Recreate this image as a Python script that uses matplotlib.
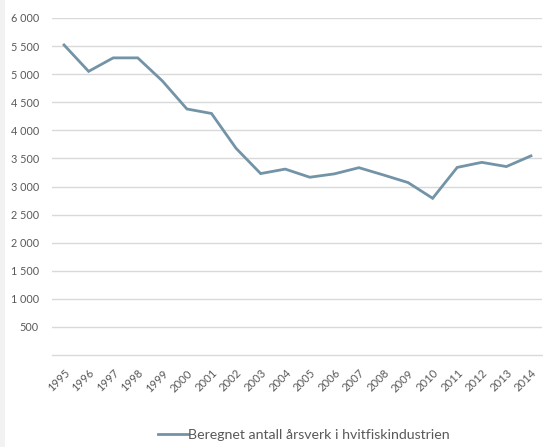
import matplotlib
matplotlib.use("Agg")
import matplotlib.pyplot as plt
from matplotlib.patches import Rectangle
from matplotlib.lines import Line2D

years = ["1995", "1996", "1997", "1998", "1999", "2000", "2001", "2002", "2003", "2004",
         "2005", "2006", "2007", "2008", "2009", "2010", "2011", "2012", "2013", "2014"]
values = [5520, 5050, 5290, 5290, 4880, 4380, 4300, 3680, 3230, 3310,
          3165, 3225, 3335, 3205, 3070, 2790, 3340, 3430, 3355, 3545]
yticks = [500, 1000, 1500, 2000, 2500, 3000, 3500, 4000, 4500, 5000, 5500, 6000]
ytick_labels = ["500", "1 000", "1 500", "2 000", "2 500", "3 000", "3 500",
                "4 000", "4 500", "5 000", "5 500", "6 000"]
series_name = "Beregnet antall årsverk i hvitfiskindustrien"

plt.rcParams['font.family'] = ['Lato', 'DejaVu Sans']

W, H = 543, 447
fig = plt.figure(figsize=(W / 100, H / 100), dpi=100)
fig.patch.set_facecolor("white")

# faint frame strip on the left
fig.patches.append(Rectangle((0, 0), 5 / W, 1, transform=fig.transFigure,
                             facecolor="#f2f2f2", edgecolor="none", zorder=0))

ax = fig.add_axes([52 / W, (H - 355) / H, (542 - 52) / W, (355 - 18) / H])
x = list(range(len(years)))
ax.plot(x, values, color="#7393a7", lw=2.0, solid_joinstyle="miter", zorder=3)

ax.set_ylim(0, 6000)
ax.set_xlim(-0.49, 19.45)
ax.set_yticks(yticks)
ax.set_yticklabels(ytick_labels)
ax.set_xticks(x)
ax.set_xticklabels(years, rotation=45, ha="right", va="top", rotation_mode="anchor")
ax.tick_params(axis="both", length=0, labelcolor="#595959")
ax.tick_params(axis="y", pad=9.5, labelsize=7.8)
ax.tick_params(axis="x", pad=9, labelsize=8.1)
ax.grid(axis="y", color="#d9d9d9", lw=1.0)
ax.set_axisbelow(True)
for s in ["top", "right", "left"]:
    ax.spines[s].set_visible(False)
ax.spines["bottom"].set_color("#d9d9d9")
ax.spines["bottom"].set_linewidth(1.0)

handle = Line2D([0], [0], color="#7393a7", lw=2.0)
fig.legend([handle], [series_name], loc="center", bbox_to_anchor=(304 / W, (H - 435) / H),
           frameon=False, fontsize=10.2, handlelength=2.1, handletextpad=0.0,
           labelcolor="#595959")

fig.savefig("out.png", dpi=100)
